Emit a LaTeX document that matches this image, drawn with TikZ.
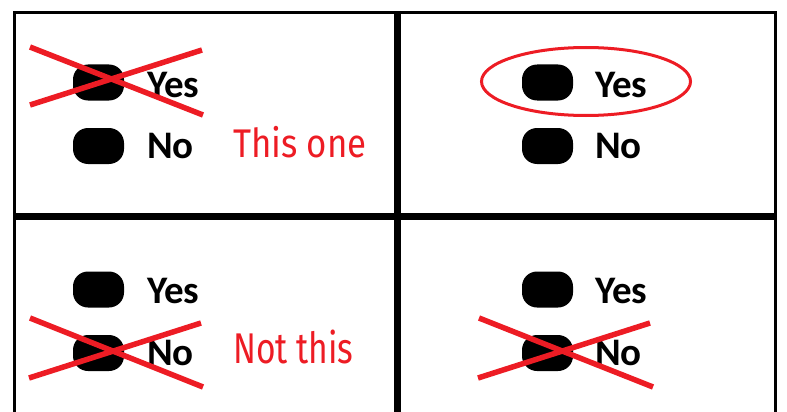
\documentclass[tikz,border=0pt]{standalone}
\usepackage{fontspec}
\usetikzlibrary{shapes.geometric}
\setmainfont{Carlito}
\newfontfamily\handfont{Fira Sans}
\definecolor{mark}{HTML}{ED1C24}
\tikzset{
  pill/.style={fill=black, minimum width=51pt, minimum height=36pt, rounded corners=15pt, inner sep=0pt},
  answer/.style={anchor=base west, inner sep=0pt, font=\fontsize{39}{39}\selectfont\bfseries},
  note/.style={anchor=base west, inner sep=0pt, text=mark, font=\fontsize{40}{40}\selectfont\handfont},
  cross/.style={draw=mark, line width=5.5pt},
  grid/.style={line width=3pt},
  gridin/.style={line width=7pt}
}
\begin{document}
\begin{tikzpicture}[x=1pt,y=-1pt]
\useasboundingbox (0,0) rectangle (787,412);
% grid
\draw[grid] (14.5,412) -- (14.5,12.5) -- (775.5,12.5) -- (775.5,412);
\draw[gridin] (13,216.5) -- (777,216.5);
\draw[gridin] (397,11) -- (397,412);
% top-left
\node[pill] (p1y) at (98.5,82.5) {};
\node[pill] (p1n) at (98.5,146) {};
\node[answer] (t1y) at (147,97) {Yes};
\node[answer] (t1n) at (147,158) {No};
\node[note, xscale=0.87] (n1) at (233,157) {This one};
\draw[cross] (30,47) -- (203,115);
\draw[cross] (30,105) -- (202,50);
% top-right
\node[pill] (p2y) at (547.5,82.5) {};
\node[pill] (p2n) at (547.5,146) {};
\node[answer] (t2y) at (595,97) {Yes};
\node[answer] (t2n) at (595,158) {No};
\node[draw=mark, line width=3pt, ellipse, minimum width=209pt, minimum height=68pt, inner sep=0pt] (e2) at (586,81.5) {};
% bottom-left
\node[pill] (p3y) at (98.5,289.5) {};
\node[pill] (p3n) at (98.5,353) {};
\node[answer] (t3y) at (147,303) {Yes};
\node[answer] (t3n) at (147,365) {No};
\node[note, xscale=0.78, font=\fontsize{43}{43}\selectfont\handfont] (n3) at (233,363) {Not this};
\draw[cross] (30,318) -- (203,387);
\draw[cross] (29,378) -- (201,323);
% bottom-right
\node[pill] (p4y) at (547.5,289.5) {};
\node[pill] (p4n) at (547.5,353) {};
\node[answer] (t4y) at (595,303) {Yes};
\node[answer] (t4n) at (595,365) {No};
\draw[cross] (479,318) -- (653,387);
\draw[cross] (478,378) -- (650,323);
\end{tikzpicture}
\end{document}
